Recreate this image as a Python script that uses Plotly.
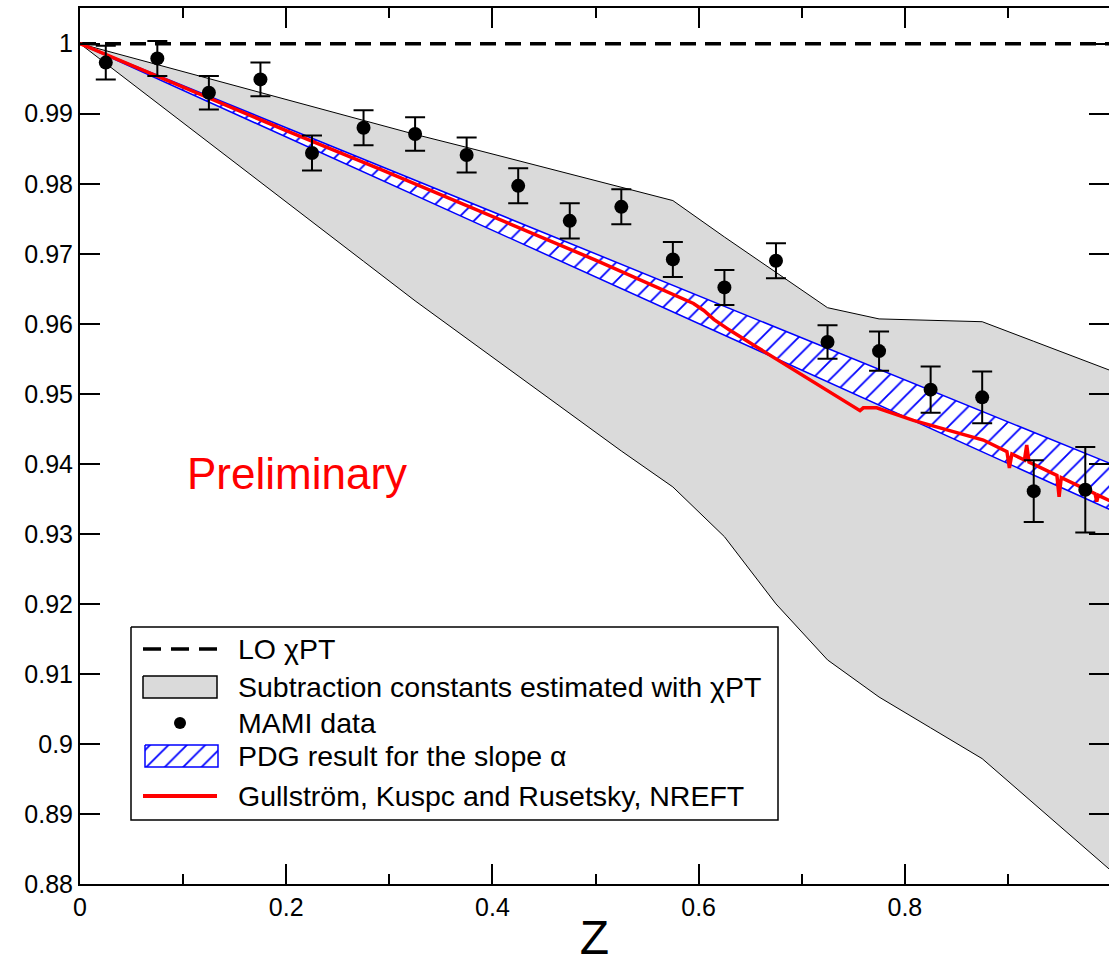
import plotly.graph_objects as go

# ---- data -------------------------------------------------------------
# MAMI measurements
mami_z = [0.025, 0.075, 0.125, 0.175, 0.225, 0.275, 0.325, 0.375, 0.425, 0.475,
          0.525, 0.575, 0.625, 0.675, 0.725, 0.775, 0.825, 0.875, 0.925, 0.975]
mami_val = [0.9973, 0.9979, 0.9930, 0.9949, 0.9844, 0.9880, 0.9871, 0.9841, 0.9797, 0.9747,
            0.9767, 0.9692, 0.9652, 0.9690, 0.9574, 0.9561, 0.9506, 0.9495, 0.9361, 0.9363]
mami_err = [0.0024, 0.0025, 0.0024, 0.0024, 0.0025, 0.0025, 0.0024, 0.0025, 0.0025, 0.0025,
            0.0025, 0.0025, 0.0025, 0.0025, 0.0024, 0.0028, 0.0033, 0.0037, 0.0044, 0.0061]

# chiPT band from the subtraction-constant estimate
band_z = [0.0, 0.025, 0.075, 0.125, 0.175, 0.225, 0.275, 0.325, 0.375, 0.425, 0.475,
          0.525, 0.575, 0.625, 0.675, 0.725, 0.775, 0.825, 0.875, 0.925, 0.975, 1.0]
band_upper = [1.0, 0.9990, 0.9970, 0.9950, 0.9930, 0.9910, 0.9890, 0.98705, 0.9852, 0.9833, 0.9815,
              0.9796, 0.9776, 0.9724, 0.9673, 0.9623, 0.9607, 0.9605, 0.9603, 0.9575, 0.9547, 0.9533]
band_lower = [1.0, 0.99718, 0.99153, 0.98588, 0.98023, 0.97458, 0.96893, 0.96328, 0.95784, 0.95251, 0.94717,
              0.94184, 0.9367, 0.9296, 0.9200, 0.9120, 0.9067, 0.9023, 0.8979, 0.8915, 0.8851, 0.8819]

# PDG slope band edges
pdg_z = [0.0, 1.0]
pdg_upper = [1.0, 0.9400]
pdg_lower = [1.0, 0.9334]

# NREFT curve
nreft_z = [0.0, 0.10, 0.20, 0.291, 0.40, 0.50, 0.595, 0.605, 0.615, 0.63, 0.6563, 0.70,
           0.7565, 0.7597, 0.7727, 0.8083, 0.8761, 0.899, 0.9014, 0.9038, 0.916, 0.9182,
           0.9204, 0.9475, 0.9496, 0.9517, 0.9845, 0.9861, 0.9877, 1.0]
nreft_val = [1.0, 0.9938, 0.9876, 0.9821, 0.9753, 0.9691, 0.9629, 0.9619, 0.9606, 0.9591, 0.9567, 0.9527,
             0.9476, 0.9480, 0.9480, 0.9462, 0.9434, 0.94175, 0.9394, 0.94141, 0.94055, 0.9427,
             0.94024, 0.93834, 0.9353, 0.93804, 0.93574, 0.9346, 0.93551, 0.93465]

# LO chiPT
lo_z = [0.0, 1.0]
lo_val = [1.0, 1.0]

x_ticks = [0, 0.2, 0.4, 0.6, 0.8]
x_ticklabels = ["0", "0.2", "0.4", "0.6", "0.8"]
y_ticks = [0.88, 0.89, 0.90, 0.91, 0.92, 0.93, 0.94, 0.95, 0.96, 0.97, 0.98, 0.99, 1.0]
y_ticklabels = ["0.88", "0.89", "0.9", "0.91", "0.92", "0.93", "0.94", "0.95", "0.96", "0.97", "0.98", "0.99", "1"]

legend_labels = ["LO χPT", "Subtraction constants estimated with χPT", "MAMI data",
                 "PDG result for the slope α", "Gullström, Kuspc and Rusetsky, NREFT"]

FONT = "Liberation Sans, Arial, Helvetica, sans-serif"
HATCH = dict(shape="/", fgcolor="#0000ff", bgcolor="white", size=13, solidity=0.14, fgopacity=1)

fig = go.Figure()

# grey band (closed polygon: upper edge then lower edge reversed)
fig.add_trace(go.Scatter(
    x=band_z + band_z[::-1], y=band_upper + band_lower[::-1],
    mode="lines", fill="toself", fillcolor="#dadada",
    line=dict(color="black", width=1), showlegend=False, hoverinfo="skip"))

# hatched PDG band
fig.add_trace(go.Scatter(
    x=pdg_z + pdg_z[::-1], y=pdg_upper + pdg_lower[::-1],
    mode="lines", fill="toself", fillcolor="white", fillpattern=HATCH,
    line=dict(color="blue", width=1.5), showlegend=False, hoverinfo="skip"))

# LO chiPT dashed line
fig.add_trace(go.Scatter(
    x=lo_z, y=lo_val, mode="lines",
    line=dict(color="black", width=3.5, dash="16px,9px"), showlegend=False))

# NREFT curve
fig.add_trace(go.Scatter(
    x=nreft_z, y=nreft_val, mode="lines",
    line=dict(color="#ff0000", width=3.5), showlegend=False))

# MAMI data with error bars
fig.add_trace(go.Scatter(
    x=mami_z, y=mami_val, mode="markers",
    marker=dict(color="black", size=14),
    error_y=dict(type="data", array=mami_err, color="black", thickness=2, width=10),
    showlegend=False))

# invisible trace carrying the right-hand tick axis
fig.add_trace(go.Scatter(
    x=[mami_z[0]], y=[mami_val[0]], yaxis="y2", mode="markers",
    marker=dict(opacity=0), showlegend=False, hoverinfo="skip"))

# ---- legend panel, drawn in its own inset axes (units: screen pixels) ----
LX0, LX1, LY0, LY1 = 126, 783, 622, 825          # inset extent
BX0, BX1, BY0, BY1 = 131, 778, 627, 820          # legend frame
SX0, SX1 = 143, 217                              # swatch span
TX = 236                                         # text start
rows = [649, 687, 723, 756, 796]                 # row centres

leg = dict(xaxis="x3", yaxis="y3", showlegend=False, hoverinfo="skip")
fig.add_trace(go.Scatter(x=[BX0, BX1, BX1, BX0, BX0], y=[BY0, BY0, BY1, BY1, BY0],
                         mode="lines", fill="toself", fillcolor="white",
                         line=dict(color="black", width=1.5), **leg))
fig.add_trace(go.Scatter(x=[SX0, SX1], y=[rows[0], rows[0]], mode="lines",
                         line=dict(color="black", width=3.5, dash="18px,10px"), **leg))
fig.add_trace(go.Scatter(x=[SX0, SX1, SX1, SX0, SX0],
                         y=[rows[1] - 11, rows[1] - 11, rows[1] + 11, rows[1] + 11, rows[1] - 11],
                         mode="lines", fill="toself", fillcolor="#dadada",
                         line=dict(color="black", width=1.5), **leg))
fig.add_trace(go.Scatter(x=[(SX0 + SX1) / 2], y=[rows[2]], mode="markers",
                         marker=dict(color="black", size=12), **leg))
fig.add_trace(go.Scatter(x=[SX0 + 2, SX1 + 1, SX1 + 1, SX0 + 2, SX0 + 2],
                         y=[rows[3] - 11, rows[3] - 11, rows[3] + 11, rows[3] + 11, rows[3] - 11],
                         mode="lines", fill="toself", fillcolor="white", fillpattern=HATCH,
                         line=dict(color="blue", width=1.5), **leg))
fig.add_trace(go.Scatter(x=[SX0, SX1], y=[rows[4], rows[4]], mode="lines",
                         line=dict(color="#ff0000", width=4), **leg))

for label, ry in zip(legend_labels, rows):
    fig.add_annotation(x=TX, y=ry, xref="x3", yref="y3", text=label, showarrow=False,
                       xanchor="left", yanchor="middle",
                       font=dict(family=FONT, size=28.5, color="black"))

fig.add_annotation(
    x=0.21, y=0.9386, xref="x", yref="y", text="Preliminary",
    showarrow=False, font=dict(family=FONT, size=44, color="#ff0000"),
    xanchor="center", yanchor="middle")

W, H, ML, MB, MT = 1109, 964, 80, 80, 8
pw, ph = W - ML, H - MB - MT

fig.update_layout(
    width=W, height=H,
    margin=dict(l=ML, r=0, t=MT, b=MB),
    paper_bgcolor="white", plot_bgcolor="white",
    font=dict(family=FONT, color="black"),
    showlegend=False,
    xaxis=dict(
        range=[0, 0.998], showgrid=False, zeroline=False,
        showline=True, linecolor="black", linewidth=2, mirror="ticks",
        ticks="inside", ticklen=20, tickwidth=1.5, tickcolor="black",
        tickvals=x_ticks, ticktext=x_ticklabels,
        tickfont=dict(family=FONT, size=25),
        minor=dict(ticks="inside", ticklen=10, tickwidth=1.5, tickcolor="black", dtick=0.1, showgrid=False),
        title=dict(text="Z", font=dict(family=FONT, size=48), standoff=4),
    ),
    yaxis=dict(
        range=[0.88, 1.0051], showgrid=False, zeroline=False,
        showline=True, linecolor="black", linewidth=2, mirror=False,
        ticks="inside", ticklen=20, tickwidth=1.5, tickcolor="black",
        tickvals=y_ticks, ticktext=y_ticklabels,
        tickfont=dict(family=FONT, size=25),
    ),
    yaxis2=dict(
        overlaying="y", side="right", matches="y", showgrid=False, zeroline=False,
        showline=False, ticks="inside", ticklen=20, tickwidth=1.5, tickcolor="black",
        tickvals=y_ticks, showticklabels=False,
    ),
    xaxis3=dict(domain=[(LX0 - ML) / pw, (LX1 - ML) / pw], range=[LX0, LX1],
                anchor="y3", visible=False, fixedrange=True),
    yaxis3=dict(domain=[(H - MB - LY1) / ph, (H - MB - LY0) / ph], range=[LY1, LY0],
                anchor="x3", visible=False, fixedrange=True),
)

fig.write_html("out.html")
